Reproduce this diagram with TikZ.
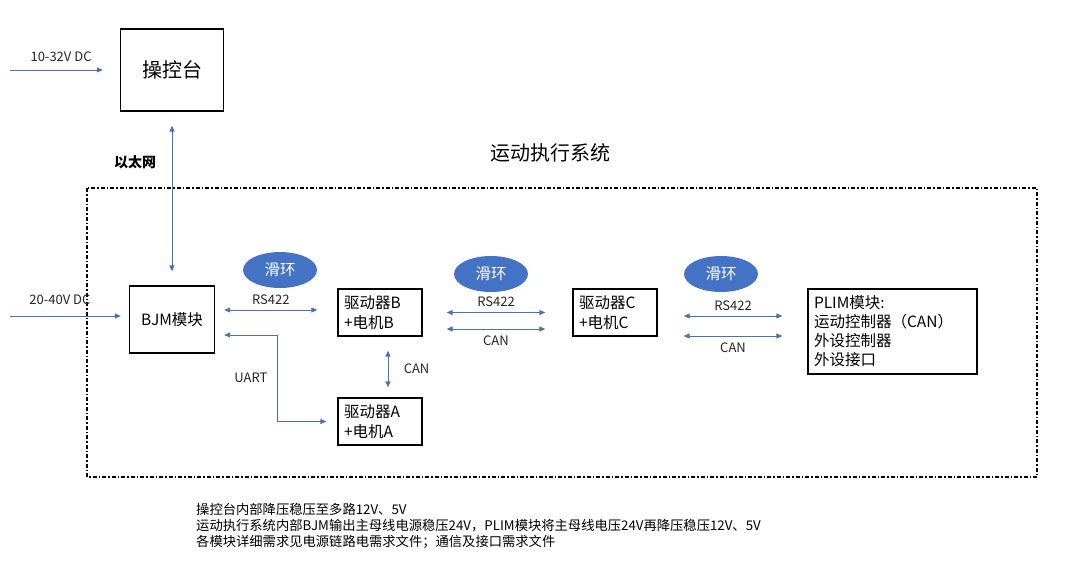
\documentclass[tikz,border=0pt]{standalone}
\usepackage{fontspec}
\setmainfont{Noto Sans CJK SC}
\usetikzlibrary{positioning,arrows.meta,shapes.geometric}
\definecolor{LinkBlue}{HTML}{4A72B0}
\definecolor{RingBlue}{HTML}{4472C4}

\tikzset{
  blk/.style={draw, line width=1.3pt, inner xsep=6pt, inner ysep=2pt, align=left, font=\fontsize{15.5}{20}\selectfont},
  link/.style={LinkBlue, line width=0.9pt, {Triangle[length=6pt,width=5pt]}-{Triangle[length=6pt,width=5pt]}},
  feed/.style={LinkBlue, line width=0.9pt, -{Triangle[length=6pt,width=5pt]}},
  ring/.style={ellipse, fill=RingBlue, text=white, minimum width=74pt, minimum height=36pt, inner sep=0pt, font=\fontsize{15.5}{18}\selectfont},
  lbl/.style={text=black!85, font=\fontsize{13}{15}\selectfont},
  frame/.style={line width=1.2pt, dash pattern=on 4pt off 2pt on 1.5pt off 2pt}
}

\begin{document}
\begin{tikzpicture}[x=1pt,y=-1pt]
    \useasboundingbox (0,0) rectangle (1080,566);

    % boxes
    \node[blk, align=center, minimum width=103pt, minimum height=82pt, font=\fontsize{20}{24}\selectfont] (cons) at (172,70) {操控台};
    \node[blk, align=center, minimum width=85pt, minimum height=67pt] (bjm) at (172,319.5) {BJM模块};
    \node[blk, text width=72pt, minimum height=47pt] (drvB) at (380,312.5) {驱动器B\\+电机B};
    \node[blk, text width=72pt, minimum height=47pt] (drvA) at (380,421.5) {驱动器A\\+电机A};
    \node[blk, text width=72pt, minimum height=47pt] (drvC) at (615,312.5) {驱动器C\\+电机C};
    \node[blk, text width=157pt, minimum height=85pt, font=\fontsize{15.5}{19}\selectfont] (plim) at (892.5,331.5) {PLIM模块:\\运动控制器（CAN）\\外设控制器\\外设接口};

    \node[ring] (ring1) at (280,270) {滑环};
    \node[ring] (ring2) at (491,274) {滑环};
    \node[ring] (ring3) at (721,274) {滑环};

    \node[font=\fontsize{20}{24}\selectfont] (title) at (550,153) {运动执行系统};
    \node[font=\fontsize{14}{16}\selectfont\bfseries] (eth) at (135,162) {以太网};

    \draw[frame] (87,188) rectangle (1037,477);

    % power inputs
    \coordinate (pin1) at (10,70);
    \coordinate (pin2) at (10,316);
    \draw[feed] (pin1) -- node[lbl, above=5pt, pos=0.55] {10-32V DC} ([xshift=-17pt]cons.west);
    \draw[feed] (pin2) -- node[lbl, above=8pt, pos=0.45] {20-40V DC} ([xshift=-8pt,yshift=3.5pt]bjm.west);

    % links
    \draw[link] ([yshift=-14pt]cons.south) -- ([yshift=14pt]bjm.north);
    \draw[link] ([xshift=9pt,yshift=9.5pt]bjm.east) -- node[lbl, above=2pt] {RS422} ([xshift=-20pt,yshift=2.5pt]drvB.west);
    \draw[link] ([xshift=9pt,yshift=-15.5pt]bjm.east) -- ++(53,0) |- node[lbl, pos=0.25, left=6pt] {UART} ([xshift=-11pt]drvA.west);
    \draw[link] ([xshift=8pt,yshift=-14pt]drvB.south) -- node[lbl, right=12pt] {CAN} ([xshift=8pt,yshift=10pt]drvA.north);

    \draw[link] ([xshift=24pt]drvB.east) -- node[lbl, above=2pt] {RS422} ([xshift=-27pt]drvC.west);
    \draw[link] ([xshift=24pt,yshift=-16.5pt]drvB.east) -- node[lbl, below=3pt] {CAN} ([xshift=-27pt,yshift=-16.5pt]drvC.west);
    \draw[link] ([xshift=26pt,yshift=-3.5pt]drvC.east) -- node[lbl, above=2pt] {RS422} ([xshift=-25pt,yshift=15.5pt]plim.west);
    \draw[link] ([xshift=26pt,yshift=-23.5pt]drvC.east) -- node[lbl, below=3pt] {CAN} ([xshift=-25pt,yshift=-4.5pt]plim.west);

    % notes
    \node[anchor=north west, align=left, inner sep=0pt, font=\fontsize{13.3}{16}\selectfont] (notes) at (196,503) {操控台内部降压稳压至多路12V、5V\\运动执行系统内部BJM输出主母线电源稳压24V，PLIM模块将主母线电压24V再降压稳压12V、5V\\各模块详细需求见电源链路电需求文件；通信及接口需求文件};
\end{tikzpicture}
\end{document}
